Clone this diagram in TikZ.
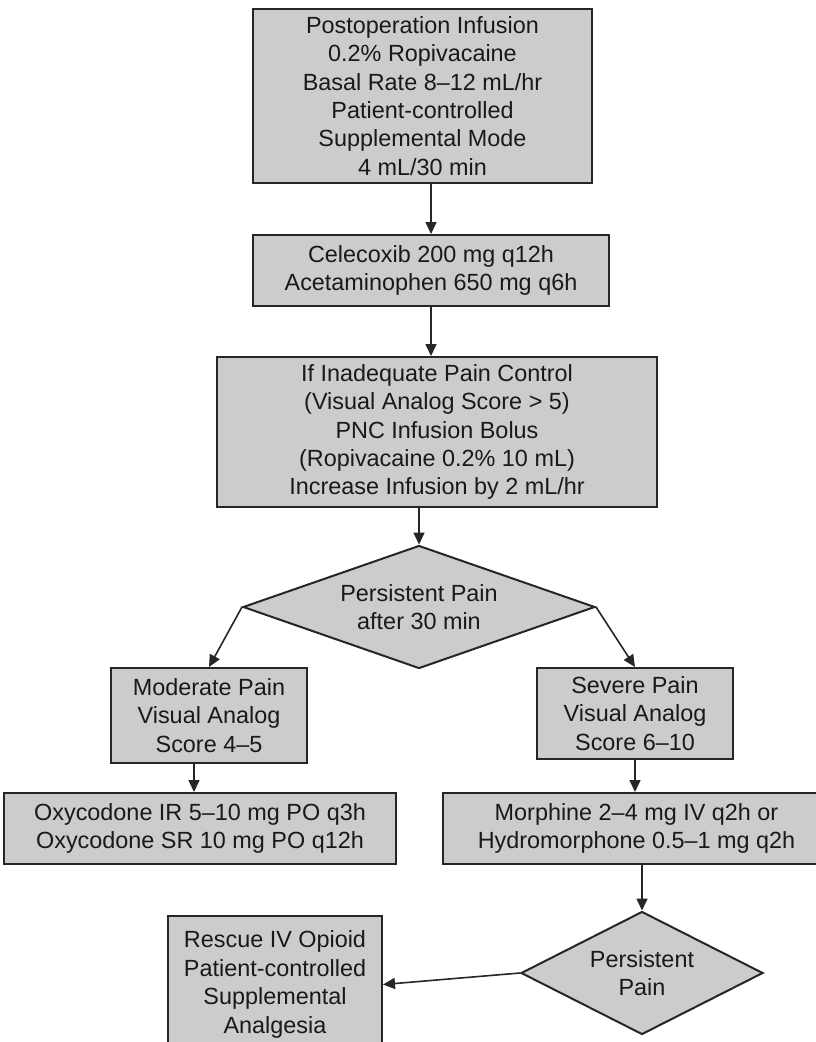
\documentclass[tikz,border=0pt]{standalone}
\usepackage{fontspec}
\setmainfont{Liberation Sans}
\usetikzlibrary{arrows.meta,positioning,shapes.geometric}

\begin{document}
\begin{tikzpicture}[
  x=1pt, y=-1pt,
  box/.style={draw=black!85, fill=black!20, line width=2pt, align=center, inner sep=0pt, text=black!90, font=\fontsize{23.4}{28.4}\selectfont},
  decision/.style={draw=black!85, fill=black!20, line width=2pt, diamond, align=center, inner sep=0pt, text=black!90, font=\fontsize{23.4}{28.4}\selectfont},
  arrow/.style={-{Triangle[length=12pt, width=11pt]}, line width=1.6pt, draw=black!85}
]
\useasboundingbox (0,0) rectangle (816,1042);
\node[box, minimum width=339pt, minimum height=174pt] (infusion) at (422.5,96) {Postoperation Infusion\\0.2\% Ropivacaine\\Basal Rate 8--12 mL/hr\\Patient-controlled\\Supplemental Mode\\4 mL/30 min};
\node[box, minimum width=356pt, minimum height=71pt] (oral) at (431,270.5) {Celecoxib 200 mg q12h\\Acetaminophen 650 mg q6h};
\node[box, minimum width=440pt, minimum height=150pt] (bolus) at (437,432) {If Inadequate Pain Control\\(Visual Analog Score > 5)\\PNC Infusion Bolus\\(Ropivacaine 0.2\% 10 mL)\\Increase Infusion by 2 mL/hr};
\node[decision, aspect=2.86, minimum width=352pt, minimum height=123pt] (persist) at (419,607) {Persistent Pain\\after 30 min};
\node[box, minimum width=196pt, minimum height=95pt] (moderate) at (209,715.5) {Moderate Pain\\Visual Analog\\Score 4--5};
\node[box, minimum width=196pt, minimum height=91pt] (severe) at (635,713.5) {Severe Pain\\Visual Analog\\Score 6--10};
\node[box, minimum width=392pt, minimum height=71pt] (oxy) at (200,828.5) {Oxycodone IR 5--10 mg PO q3h\\Oxycodone SR 10 mg PO q12h};
\node[box, minimum width=387pt, minimum height=71pt] (morphine) at (636.5,828.5) {Morphine 2--4 mg IV q2h or\\Hydromorphone 0.5--1 mg q2h};
\node[decision, aspect=1.97, minimum width=242pt, minimum height=123pt] (recheck) at (642,973) {Persistent\\Pain};
\node[box, minimum width=214pt, minimum height=137pt] (rescue) at (275,984.5) {Rescue IV Opioid\\Patient-controlled\\Supplemental\\Analgesia};
\draw[arrow] (infusion.south -| oral.north) -- (oral.north);
\draw[arrow] (oral.south) -- (oral.south |- bolus.north);
\draw[arrow] (bolus.south -| persist.north) -- (persist.north);
\draw[arrow] (persist.west) -- (moderate.north);
\draw[arrow] (persist.east) -- (severe.north);
\draw[arrow] ([xshift=-15pt]moderate.south) -- ([xshift=-15pt]moderate.south |- oxy.north);
\draw[arrow] (severe.south) -- (severe.south |- morphine.north);
\draw[arrow] (morphine.south -| recheck.north) -- (recheck.north);
\draw[arrow] (recheck.west) -- (rescue.east);
\end{tikzpicture}
\end{document}
